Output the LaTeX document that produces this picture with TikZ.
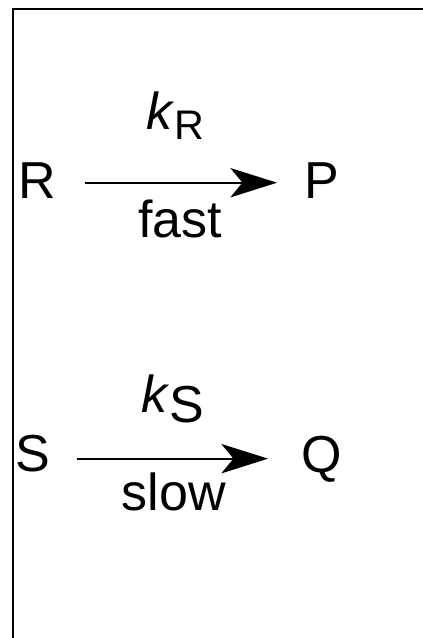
\documentclass[tikz,border=0pt]{standalone}
\usepackage{fontspec}
\setmainfont{Liberation Sans}
\usetikzlibrary{arrows.meta}
\begin{document}
\begin{tikzpicture}[x=0.75pt,y=-0.75pt,
  lbl/.style={inner sep=0pt, outer sep=0pt, anchor=base, font=\fontsize{39}{39}\selectfont},
  klbl/.style={inner sep=0pt, outer sep=0pt, anchor=base west, font=\fontsize{39}{39}\selectfont},
  arr/.style={line width=1.5pt, -{Stealth[length=35pt, width=22pt, inset=9pt]}},
  frame/.style={line width=1.5pt, black}]
\useasboundingbox (0,0) rectangle (423,638);
\draw[frame] (12.5,638) -- (12.5,9) -- (423,9);
% top reaction
\node[lbl] (R) at (37,198) {R};
\node[lbl] (P) at (322,198) {P};
\node[klbl] (kR) at (146,130) {\textit{k}\raisebox{-7.5pt}{\fontsize{31}{31}\selectfont R}};
\node[lbl] (fast) at (180,237) {fast};
\coordinate (r0) at ([xshift=21.9pt,yshift=-1.95pt]R.east);
\coordinate (p0) at ([xshift=-20.7pt]P.west);
\draw[arr] (r0) -- (r0 -| p0);
% bottom reaction
\node[lbl] (S) at (33,471.5) {S};
\node[lbl] (Q) at (321.5,472) {Q};
\node[klbl] (kS) at (141,412) {\textit{k}\raisebox{-7.5pt}{S}};
\node[lbl] (slow) at (174,510) {slow};
\coordinate (s0) at ([xshift=20pt,yshift=-3.8pt]S.east);
\coordinate (q0) at ([xshift=-24.9pt]Q.west);
\draw[arr] (s0) -- (s0 -| q0);
\end{tikzpicture}
\end{document}
